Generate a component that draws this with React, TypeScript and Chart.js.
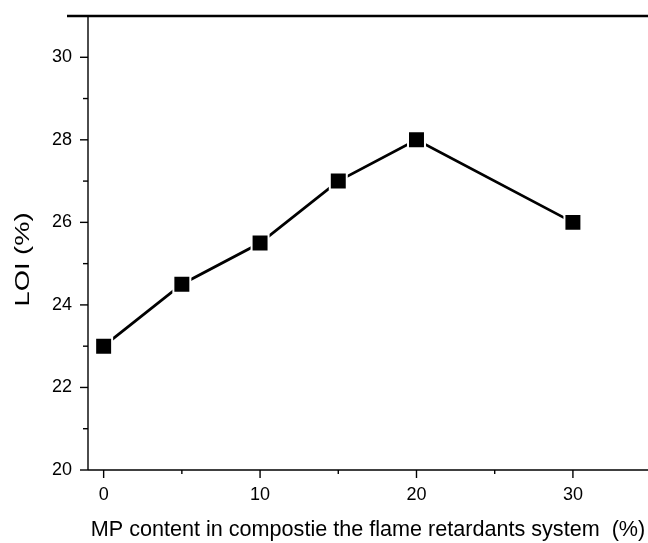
import React, { useEffect, useRef } from "react";
import { Chart, registerables } from "chart.js";

Chart.register(...registerables);

const mpContent = [0, 5, 10, 15, 20, 30];
const loiValues = [23, 24.5, 25.5, 27, 28, 26];
const xTickValues = [0, 5, 10, 15, 20, 25, 30];
const xLabeledTicks = [0, 10, 20, 30];
const yTickValues = [20, 21, 22, 23, 24, 25, 26, 27, 28, 29, 30];
const yLabeledTicks = [20, 22, 24, 26, 28, 30];
const xTitle = "MP content in compostie the flame retardants system  (%)";
const yTitle = "LOI (%)";

const FONT = "'Liberation Sans', Arial, Helvetica, sans-serif";

const axesPlugin = {
  id: "customAxes",
  afterDraw(chart: any) {
    const { ctx, chartArea, scales } = chart;
    const x = scales.x;
    const y = scales.y;
    const { left, right, top, bottom } = chartArea;
    ctx.save();
    ctx.strokeStyle = "#000";
    ctx.lineCap = "butt";

    // left axis
    ctx.lineWidth = 1.4;
    ctx.beginPath();
    ctx.moveTo(left, top);
    ctx.lineTo(left, bottom);
    ctx.stroke();

    // bottom axis
    ctx.lineWidth = 1.6;
    ctx.beginPath();
    ctx.moveTo(left, bottom);
    ctx.lineTo(right, bottom);
    ctx.stroke();

    // top frame line (extends left of the axis)
    ctx.lineWidth = 2.6;
    ctx.beginPath();
    ctx.moveTo(left - 21, top);
    ctx.lineTo(right, top);
    ctx.stroke();

    // x ticks
    ctx.lineWidth = 1.4;
    for (const v of xTickValues) {
      const px = x.getPixelForValue(v);
      const len = xLabeledTicks.includes(v) ? 8 : 4;
      ctx.beginPath();
      ctx.moveTo(px, bottom);
      ctx.lineTo(px, bottom + len);
      ctx.stroke();
    }
    // y ticks
    for (const v of yTickValues) {
      const py = y.getPixelForValue(v);
      const len = yLabeledTicks.includes(v) ? 8 : 5;
      ctx.beginPath();
      ctx.moveTo(left, py);
      ctx.lineTo(left - len, py);
      ctx.stroke();
    }

    // y-axis title (stretched along its length like the original)
    ctx.fillStyle = "#000";
    ctx.font = `21px ${FONT}`;
    ctx.textAlign = "center";
    ctx.textBaseline = "middle";
    ctx.translate(23, y.getPixelForValue(25.1));
    ctx.rotate(-Math.PI / 2);
    ctx.scale(1.3, 1);
    ctx.fillText(yTitle, 0, 0);
    ctx.restore();
  },
};

export default function App() {
  const canvasRef = useRef<HTMLCanvasElement | null>(null);

  useEffect(() => {
    if (!canvasRef.current) return;
    const chart = new Chart(canvasRef.current, {
      type: "line",
      data: {
        datasets: [
          {
            label: "LOI",
            data: mpContent.map((v, i) => ({ x: v, y: loiValues[i] })),
            borderColor: "#000",
            borderWidth: 2.8,
            backgroundColor: "#000",
            pointStyle: "rect",
            pointRadius: 12,
            pointHoverRadius: 12,
            pointBackgroundColor: "#000",
            pointBorderColor: "#fff",
            pointBorderWidth: 2,
            tension: 0,
          },
        ],
      },
      options: {
        responsive: false,
        animation: false,
        events: [],
        layout: { autoPadding: false, padding: { top: 16, right: 0, left: 0, bottom: 0 } },
        plugins: {
          legend: { display: false },
          tooltip: { enabled: false },
        },
        scales: {
          x: {
            type: "linear",
            min: -1,
            max: 34.8,
            grid: { display: false, drawTicks: false },
            border: { display: false },
            afterBuildTicks: (s: any) => {
              s.ticks = xLabeledTicks.map((v) => ({ value: v }));
            },
            afterFit: (s: any) => {
              s.height = 73;
              s.paddingLeft = 0;
              s.paddingRight = 0;
            },
            ticks: {
              padding: 14,
              color: "#000",
              font: { family: FONT, size: 18 },
              maxRotation: 0,
              autoSkip: false,
            },
            title: {
              display: true,
              text: xTitle,
              color: "#000",
              font: { family: FONT, size: 21.6 },
              padding: { top: 0, bottom: 0 },
            },
          },
          y: {
            type: "linear",
            min: 20,
            max: 31,
            grid: { display: false, drawTicks: false },
            border: { display: false },
            afterBuildTicks: (s: any) => {
              s.ticks = yLabeledTicks.map((v) => ({ value: v }));
            },
            afterFit: (s: any) => {
              s.width = 88;
              s.paddingTop = 0;
              s.paddingBottom = 0;
            },
            ticks: {
              padding: 16,
              color: "#000",
              font: { family: FONT, size: 18 },
              autoSkip: false,
            },
            title: { display: false },
          },
        },
      },
      plugins: [axesPlugin],
    });
    return () => chart.destroy();
  }, []);

  return (
    <div style={{ position: "absolute", left: 0, top: 0, width: 648, height: 543, background: "#fff" }}>
      <canvas ref={canvasRef} width={648} height={543} />
    </div>
  );
}
